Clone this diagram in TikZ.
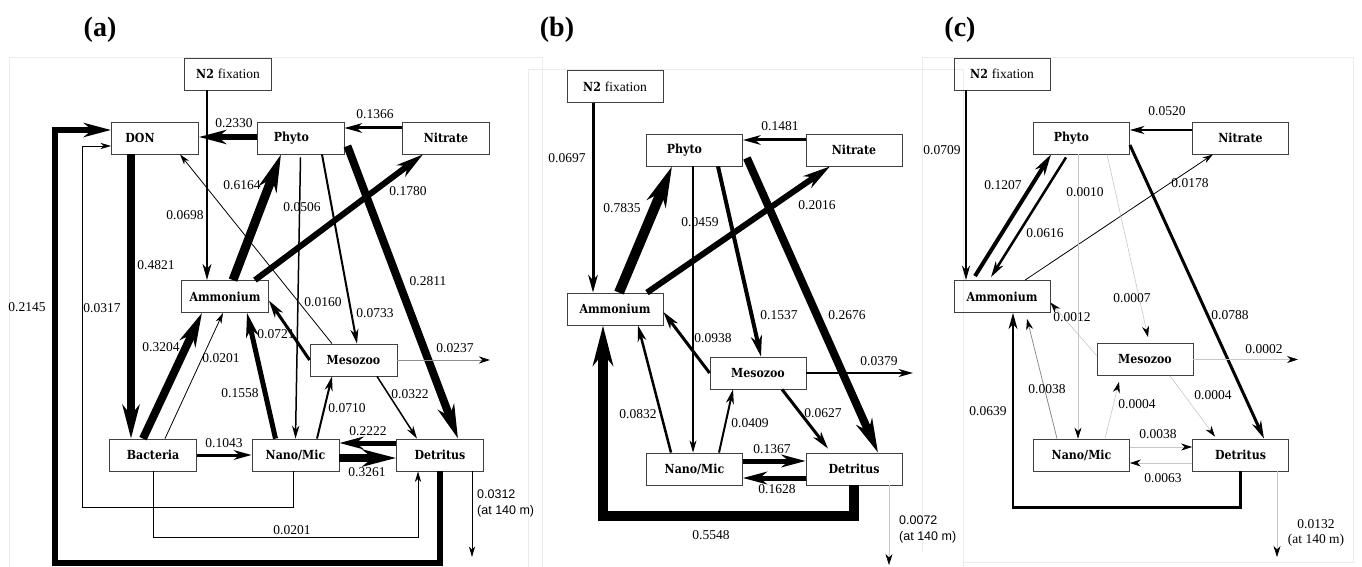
\documentclass[tikz,border=0pt]{standalone}
\usepackage{fontspec}
\setmainfont{Liberation Serif}
\setsansfont{Liberation Sans}
\newfontfamily\nodefam{DejaVu Serif}[FakeStretch=0.88]
\usetikzlibrary{arrows.meta}
\newcommand{\nbf}{\nodefam\bfseries\fontsize{12.5}{14}\selectfont}
\newcommand{\lf}{\rmfamily\mdseries\fontsize{13.5}{15}\selectfont}
\newcommand{\sfl}{\sffamily\fontsize{12.5}{16}\selectfont}
\begin{document}
\begin{tikzpicture}[x=1pt,y=-1pt,
 box/.style={draw=black!75, line width=0.8pt, minimum width=87pt, minimum height=32pt, inner sep=0pt, font=\nbf},
 boxb/.style={box, minimum width=96pt},
 fl/.style={line width=#1, -{Stealth[length=8pt 3.2, width=5pt 1.5, inset'=0pt 0.3]}},
 faint/.style={draw=black!22, line width=0.6pt, -{Stealth[length=11pt, width=7pt, inset=3.5pt, black]}},
 grey/.style={draw=black!#1, line width=0.8pt, -{Stealth[length=11pt, width=7pt, inset=3.5pt, black]}},
 lab/.style={font=\lf, inner sep=0pt},
 title/.style={font=\bfseries\fontsize{28}{30}\selectfont, inner sep=0pt},
 frame/.style={draw=black!8, line width=0.6pt},
]
\useasboundingbox (0,0) rectangle (1362,567);
% faint panel frames
\draw[frame] (9,567) -- (9,57) -- (542,57) -- (542,567);
\draw[frame] (528,567) -- (528,69) -- (963,69) -- (963,567);
\draw[frame] (922,552) -- (922,57) -- (1353,57) -- (1353,562) -- (963,562);

% ================= panel (a) =================
\node[title] (ta) at (100,30) {(a)};
\node[box] (n2A) at (228,74) {N2 {\lf fixation}};
\node[box] (donA) at (155,138) {\kern-15pt DON\kern15pt};
\node[box] (phA) at (300.5,138) {\kern-9pt Phyto\kern9pt};
\node[box] (niA) at (446,138) {Nitrate};
\node[box] (amA) at (225,296.5) {Ammonium};
\node[box] (meA) at (353.5,360) {Mesozoo};
\node[box] (baA) at (153,455) {Bacteria};
\node[box] (naA) at (295.5,455) {Nano/Mic};
\node[box] (deA) at (440,455) {Detritus};
\coordinate (outMeA) at (490,360);
\coordinate (outDeA) at (472,557);

\draw[fl=2.5] ([xshift=-21]n2A.south) -- ([xshift=-18]amA.north);
\draw[fl=6] ([yshift=1]phA.west) -- ([yshift=1]donA.east);
\draw[fl=3] ([yshift=10]niA.west) -- ([yshift=10]phA.east);
\draw[fl=9] ([xshift=8]amA.north) -- ([xshift=-19.5]phA.south);
\draw[fl=6] ([xshift=30]amA.north) -- ([xshift=-23]niA.south);
\draw[fl=8] ([xshift=3,yshift=-8]phA.east) -- ([xshift=18]deA.north);
\draw[fl=1.5] ([yshift=-3]phA.south) -- (naA.north);
\draw[fl=2] ([xshift=21.5]phA.south) -- ([xshift=3.5]meA.north);
\draw[fl=0.8] ([xshift=-21.5]meA.north) -- ([xshift=25]donA.south);
\draw[fl=8] ([xshift=-24]donA.south) -- ([xshift=-22]baA.north);
\draw[fl=8] ([xshift=-10]baA.north) -- ([xshift=-23]amA.south);
\draw[fl=0.8] ([xshift=12]baA.north) -- ([xshift=-2]amA.south);
\draw[fl=5] ([xshift=-20]naA.north) -- ([xshift=22]amA.south);
\draw[fl=3] (meA.west) -- ([yshift=-4]amA.east);
\draw[fl=2] ([xshift=21.5]naA.north) -- ([xshift=-21.5]meA.south);
\draw[fl=1.5] ([xshift=23.5]meA.south) -- ([xshift=-23]deA.north);
\draw[grey=45] (meA.east) -- (outMeA);
\draw[fl=3] (baA.east) -- (naA.west);
\draw[fl=5] ([yshift=12]deA.west) -- ([yshift=12]naA.east);
\draw[fl=8] ([yshift=-3]naA.east) -- ([yshift=-3]deA.west);
\draw[fl=0.8] (baA.south) -- ++(0,66) -| ([xshift=-22]deA.south);
\draw[fl=0.8] ([xshift=-2.5]naA.south) -- ++(0,36) -- ++(-211,0) |- ([yshift=-8]donA.west);
\draw[fl=6] (deA.south) -- ++(0,92) -- ++(-385,0) |- ([yshift=8]donA.west);
\draw[fl=0.8] ([xshift=32]deA.south) -- (outDeA);

\node[lab] (la1) at (185,215) {0.0698};
\node[lab] (la2) at (234,123) {0.2330};
\node[lab] (la3) at (375,114) {0.1366};
\node[lab] (la4) at (242,185) {0.6164};
\node[lab] (la5) at (408,191) {0.1780};
\node[lab] (la6) at (428,281) {0.2811};
\node[lab] (la7) at (302,207) {0.0506};
\node[lab] (la8) at (375,313) {0.0733};
\node[lab] (la9) at (323,302) {0.0160};
\node[lab] (la10) at (156,265) {0.4821};
\node[lab] (la11) at (161,347) {0.3204};
\node[lab] (la12) at (221,358) {0.0201};
\node[lab] (la13) at (240,393) {0.1558};
\node[lab] (la14) at (276,334) {0.0721};
\node[lab] (la15) at (347,408) {0.0710};
\node[lab] (la16) at (410,394) {0.0322};
\node[lab] (la17) at (455,348) {0.0237};
\node[lab] (la18) at (368,431) {0.2222};
\node[lab] (la19) at (367,472) {0.3261};
\node[lab] (la20) at (292,530) {0.0201};
\node[lab] (la21) at (102,308) {0.0317};
\node[lab] (la22) at (27,307) {0.2145};
\node[lab] (la24) at (224,443) {0.1043};
\node[lab, font=\sfl, anchor=north west, align=left] (la23) at (477,490) {0.0312\\(at 140 m)};

% ================= panel (b) =================
\node[title] (tb) at (557,30) {(b)};
\node[boxb] (n2B) at (615,86.5) {N2 {\lf fixation}};
\node[boxb] (phB) at (694.5,150) {\kern-10pt Phyto\kern10pt};
\node[boxb] (niB) at (854,150) {Nitrate};
\node[boxb] (amB) at (615,309) {Ammonium};
\node[boxb] (meB) at (758,373) {Mesozoo};
\node[boxb] (naB) at (694.5,469) {Nano/Mic};
\node[boxb] (deB) at (854,469) {Detritus};
\coordinate (outMeB) at (913,373);
\coordinate (outDeB) at (889,565);

\draw[fl=3] ([xshift=-22]n2B.south) -- ([xshift=-22]amB.north);
\draw[fl=3] ([yshift=10]niB.west) -- ([yshift=10]phB.east);
\draw[fl=10] ([xshift=4]amB.north) -- ([xshift=-22.5]phB.south);
\draw[fl=6] ([xshift=32]amB.north) -- ([xshift=-24]niB.south);
\draw[fl=1.3] ([xshift=-1.5]phB.south) -- ([xshift=-1.5]naB.north);
\draw[fl=4] ([xshift=23.5]phB.south) -- ([xshift=3]meB.north);
\draw[fl=8] ([xshift=4,yshift=-8]phB.east) -- ([xshift=24]deB.north);
\draw[fl=3] (meB.west) -- ([yshift=-3]amB.east);
\draw[fl=2.5] ([xshift=-23.5]naB.north) -- ([xshift=23]amB.south);
\draw[fl=2] ([xshift=24.5]naB.north) -- ([xshift=-25]meB.south);
\draw[fl=3] ([xshift=24]meB.south) -- ([xshift=-26,yshift=4]deB.north);
\draw[fl=2] (meB.east) -- (outMeB);
\draw[fl=5] ([yshift=8]naB.east) -- ([yshift=8]deB.west);
\draw[fl=5] ([yshift=-9]deB.west) -- ([yshift=-9]naB.east);
\draw[fl=10] (deB.south) -- ++(0,31) -| ([xshift=-12]amB.south);
\draw[faint] ([xshift=35]deB.south) -- (outDeB);

\node[lab] (lb1) at (567,158) {0.0697};
\node[lab] (lb2) at (780,126) {0.1481};
\node[lab] (lb3) at (622,208) {0.7835};
\node[lab] (lb4) at (817,205) {0.2016};
\node[lab] (lb5) at (700,222) {0.0459};
\node[lab] (lb6) at (779,315) {0.1537};
\node[lab] (lb7) at (847,315) {0.2676};
\node[lab] (lb8) at (713,338) {0.0938};
\node[lab] (lb9) at (638,414) {0.0832};
\node[lab] (lb10) at (750,423) {0.0409};
\node[lab] (lb11) at (823,413) {0.0627};
\node[lab] (lb12) at (879,361) {0.0379};
\node[lab] (lb13) at (772,449) {0.1367};
\node[lab] (lb14) at (777,489) {0.1628};
\node[lab] (lb15) at (711,535) {0.5548};
\node[lab, font=\sfl, anchor=north west, align=left] (lb16) at (899,516) {0.0072\\(at 140 m)};

% ================= panel (c) =================
\node[title] (tc) at (960,30) {(c)};
\node[boxb] (n2C) at (1002,74) {N2 {\lf fixation}};
\node[boxb] (phC) at (1081.5,138) {\kern-10pt Phyto\kern10pt};
\node[boxb] (niC) at (1240.5,138) {Nitrate};
\node[boxb] (amC) at (1002,296.5) {Ammonium};
\node[boxb] (meC) at (1145,359.5) {Mesozoo};
\node[boxb] (naC) at (1081.5,455) {Nano/Mic};
\node[boxb] (deC) at (1240.5,455) {Detritus};
\coordinate (outMeC) at (1298,359.5);
\coordinate (outDeC) at (1277,557);

\draw[fl=2] ([xshift=-36]n2C.south) -- ([xshift=-36]amC.north);
\draw[fl=2] ([yshift=8]niC.west) -- ([yshift=8]phC.east);
\draw[fl=4] ([xshift=-27,yshift=4]amC.north) -- ([xshift=-30.5]phC.south);
\draw[fl=2.5] ([xshift=-15.5,yshift=-3]phC.south) -- ([xshift=-11,yshift=3]amC.north);
\draw[fl=0.8] ([xshift=23]amC.north) -- ([xshift=-27.5]niC.south);
\draw[faint] ([xshift=-3.5]phC.south) -- ([xshift=-3.5]naC.north);
\draw[faint] ([xshift=25.5]phC.south) -- ([xshift=3,yshift=6]meC.north);
\draw[fl=3] ([yshift=-7]phC.east) -- ([xshift=23.5]deC.north);
\draw[faint] ([yshift=4]meC.west) -- ([yshift=-6]amC.east);
\draw[grey=45] ([xshift=-24.5]naC.north) -- ([xshift=25,yshift=-6]amC.south);
\draw[faint] ([xshift=23.5]naC.north) -- ([xshift=-26,yshift=-6]meC.south);
\draw[faint] ([xshift=25]meC.south) -- ([xshift=-25.5,yshift=2]deC.north);
\draw[faint] (meC.east) -- (outMeC);
\draw[faint] ([yshift=8]naC.east) -- ([yshift=8]deC.west);
\draw[faint] ([yshift=-8]deC.west) -- ([yshift=-8]naC.east);
\draw[fl=2.5] (deC.south) -- ++(0,36) -| ([xshift=11]amC.south);
\draw[faint] ([xshift=36.5]deC.south) -- (outDeC);

\node[lab] (lc1) at (942,150) {0.0709};
\node[lab] (lc2) at (1167,111) {0.0520};
\node[lab] (lc3) at (1003,185) {0.1207};
\node[lab] (lc4) at (1045,233) {0.0616};
\node[lab] (lc5) at (1190,183) {0.0178};
\node[lab] (lc6) at (1085,192) {0.0010};
\node[lab] (lc7) at (1132,298) {0.0007};
\node[lab] (lc8) at (1230,315) {0.0788};
\node[lab] (lc9) at (1072,317) {0.0012};
\node[lab] (lc10) at (1047,389) {0.0038};
\node[lab] (lc11) at (1137,404) {0.0004};
\node[lab] (lc12) at (1213,395) {0.0004};
\node[lab] (lc13) at (1264,349) {0.0002};
\node[lab] (lc14) at (1158,434) {0.0038};
\node[lab] (lc15) at (1163,478) {0.0063};
\node[lab] (lc16) at (988,411) {0.0639};
\node[lab, align=center] (lc17) at (1316,533) {0.0132\\(at 140 m)};
\end{tikzpicture}
\end{document}
